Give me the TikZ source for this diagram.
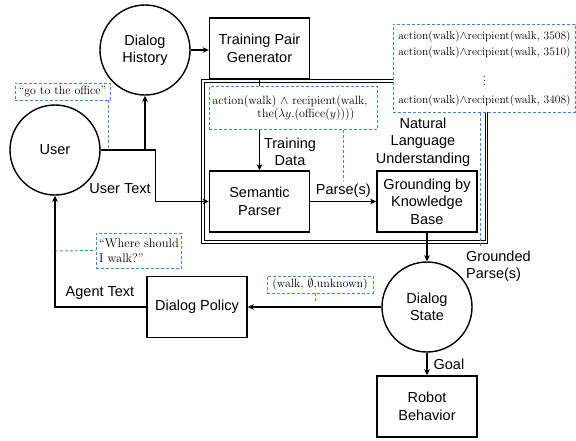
\documentclass[tikz,border=0pt]{standalone}
\usepackage{fontspec}
\setsansfont{Liberation Sans}
\usepackage{amsmath, amssymb}
\usepackage{tikz}
\usetikzlibrary{arrows.meta}
\usetikzlibrary{calc}
\usetikzlibrary{shapes}

\begin{document}
\begin{tikzpicture}[x=1pt,y=-1pt]
        \tikzset{>={Stealth[length=6pt,width=5.5pt,inset=1.5pt]}}
        \tikzstyle{every node}=[font=\sffamily\fontsize{14.5}{17.5}\selectfont,align=center,inner sep=1pt]
        \tikzstyle{blk}=[draw=black,line width=1.4pt,minimum width=100pt,minimum height=61pt]
        \tikzstyle{circ}=[circle,draw=black,line width=1.4pt,minimum size=90pt]
        \tikzstyle{lnk}=[line width=1.3pt]
        \definecolor{a-strokecolor}{HTML}{4A86D0}
        \tikzstyle{anno}=[draw=a-strokecolor,fill=white,line width=0.9pt,dash pattern=on 3pt off 2pt,font=\rmfamily\fontsize{12}{14}\selectfont,inner xsep=3pt,inner ysep=2pt]
        \tikzstyle{tail}=[draw=a-strokecolor,line width=0.9pt,dash pattern=on 3pt off 2pt]
        \useasboundingbox (0,0) rectangle (576,440);

        \draw [line width=0.8pt, double, double distance=1.5pt] (203,81) rectangle (486.5,242);

        \node [circ] (hist) at (145,50) {Dialog\\History};
        \node [blk] (tpg) at (259.5,48.5) {Training Pair\\Generator};
        \node [circ] (user) at (55,150) {User};
        \node [blk] (sp) at (259.5,201.5) {Semantic\\Parser};
        \node [blk] (gkb) at (427,201.5) {Grounding by\\Knowledge\\Base};
        \node [circ] (ds) at (427,307) {Dialog\\State};
        \node [blk] (dp) at (197,307) {Dialog Policy};
        \node [blk] (rb) at (427,406.5) {Robot\\Behavior};
        \node (nlu) at (423,142) {Natural\\Language\\Understanding};

        \coordinate (t0) at (108,150);
        \coordinate (t1) at (343,180);
        \coordinate (t2) at (480,246);
        \coordinate (t3) at (55,251);
        \coordinate (t4) at (315,301);

        \draw [lnk,->] (hist.east) -- (hist.east -| tpg.west);
        \draw [lnk,->] (user.east) -- ++(55,0) |- (sp.west);
        \draw [lnk,->] (hist.south |- user.east) -- (hist.south);
        \node (utxt) at (120,189) {User Text};
        \draw [lnk,->] (tpg) -- (sp);
        \node (tdata) at (290,152) {Training\\Data};
        \draw [lnk,->] (sp) -- (gkb) node [midway,above=2pt] {Parse(s)};
        \draw [lnk,->] (gkb) -- (ds);
        \node [anchor=west,align=left] (gp) at (465,266) {Grounded\\Parse(s)};
        \draw [lnk,->] (ds) -- (rb) node [midway,right=5pt] {Goal};
        \draw [lnk,->] (ds) -- (dp);
        \draw [lnk,->] (dp.west) -| (user.south);
        \node (atxt) at (100,293) {Agent Text};

        \node [anno,minimum width=95pt,minimum height=17pt] (a0) at (62.5,91.5) {“go to the office”};
        \node [anno,anchor=north west,align=left,minimum height=43pt,font=\rmfamily\fontsize{12}{13.5}\selectfont] (a1) at (209,86) {action(walk) $\wedge$ recipient(walk,\hspace*{7pt}\\\hspace*{45pt}the($\lambda y$.(office($y$))))};
        \node [anno,anchor=north west,minimum width=182pt,minimum height=88pt,font=\rmfamily\fontsize{11.5}{16}\selectfont] (a2) at (393,24) {action(walk)$\wedge$recipient(walk, 3508)\\action(walk)$\wedge$recipient(walk, 3510)\\[11pt]$\vdots$\\[2pt]action(walk)$\wedge$recipient(walk, 3408)};
        \node [anno,align=left,minimum width=84pt,minimum height=35pt,font=\rmfamily\fontsize{12.5}{15}\selectfont] (a3) at (139,250.5) {“Where should\\I walk?”};
        \node [anno,minimum width=106pt,minimum height=17pt] (a4) at (320,284.5) {(walk, $\emptyset$,unknown)};

        \draw [tail] (a0.south -| t0) -- (t0);
        \draw [tail] (a1.south -| t1) -- (t1);
        \draw [tail] (a2.south -| t2) -- (t2);
        \draw [tail] (t3) -- (a3.west);
        \draw [tail] (a4.south -| t4) -- (t4);
\end{tikzpicture}
\end{document}
